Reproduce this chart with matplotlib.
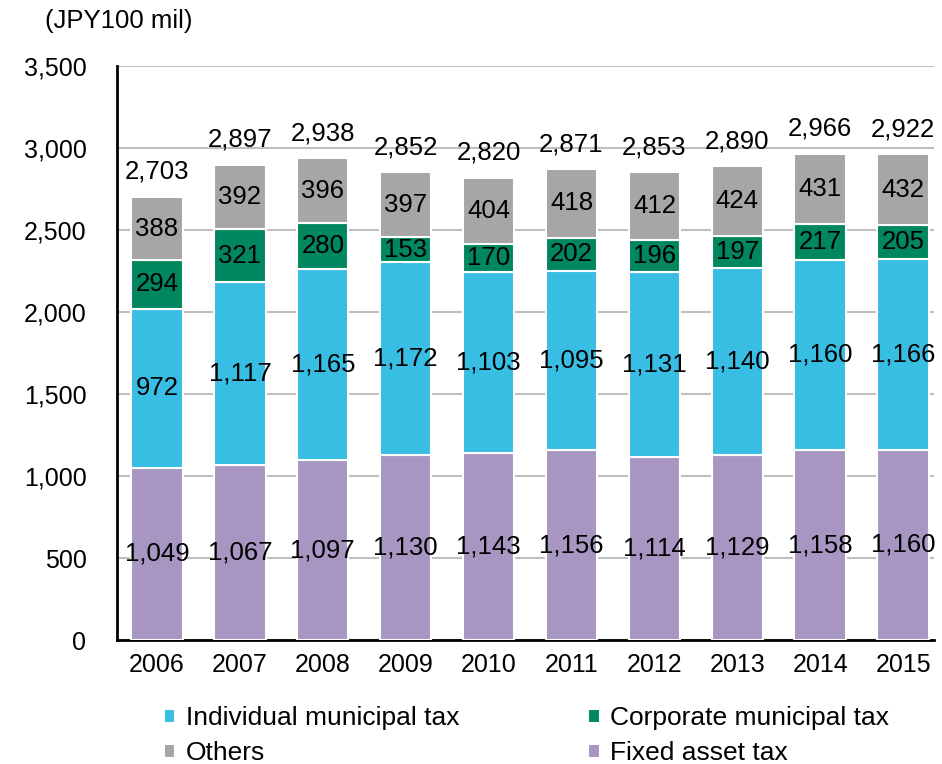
import matplotlib
matplotlib.use('Agg')
import matplotlib.pyplot as plt
import numpy as np

plt.rcParams['font.family'] = ['Liberation Sans', 'DejaVu Sans']

# Data (JPY 100 mil)
years = ['2006', '2007', '2008', '2009', '2010', '2011', '2012', '2013', '2014', '2015']
fixed_asset = [1049, 1067, 1097, 1130, 1143, 1156, 1114, 1129, 1158, 1160]
individual = [972, 1117, 1165, 1172, 1103, 1095, 1131, 1140, 1160, 1166]
corporate = [294, 321, 280, 153, 170, 202, 196, 197, 217, 205]
others = [388, 392, 396, 397, 404, 418, 412, 424, 431, 432]
totals = [2703, 2897, 2938, 2852, 2820, 2871, 2853, 2890, 2966, 2922]

series = [
    ('Fixed asset tax', fixed_asset, '#A896C2'),
    ('Individual municipal tax', individual, '#38BDE3'),
    ('Corporate municipal tax', corporate, '#00875F'),
    ('Others', others, '#A6A6A6'),
]

FS = 18.5

fig = plt.figure(figsize=(9.42, 7.64), dpi=100)
ax = fig.add_axes([0.1242, 0.1623, 0.8673, 0.7513])

x = np.arange(len(years))
bottom = np.zeros(len(years))
handles = {}
for name, vals, color in series:
    vals = np.array(vals, dtype=float)
    bars = ax.bar(x, vals, 0.62, bottom=bottom, color=color,
                  edgecolor='white', linewidth=1.5, zorder=3, label=name)
    handles[name] = bars
    for xi, b, v in zip(x, bottom, vals):
        ax.text(xi, b + v / 2, f'{int(v):,}', ha='center', va='center',
                fontsize=FS, color='black', zorder=4)
    bottom += vals

# Total labels above bars
for xi, top, t in zip(x, bottom, totals):
    ax.annotate(f'{t:,}', (xi, top), xytext=(0, 18), textcoords='offset points',
                ha='center', va='center', fontsize=FS)

ax.set_ylim(0, 3500)
ax.set_xlim(-0.4825, 9.373)
ax.set_yticks(np.arange(0, 3501, 500))
ax.set_yticklabels([f'{v:,}' for v in range(0, 3501, 500)])
ax.set_xticks(x)
ax.set_xticklabels(years)
ax.tick_params(axis='both', length=0, labelsize=18)
ax.tick_params(axis='y', pad=22)
ax.tick_params(axis='x', pad=9)

ax.yaxis.grid(True, color='#BFBFBF', linewidth=1.5, zorder=0)
ax.set_axisbelow(True)
for s in ['top', 'right']:
    ax.spines[s].set_visible(False)
for s in ['left', 'bottom']:
    ax.spines[s].set_linewidth(2)
    ax.spines[s].set_color('black')

fig.text(0.126, 0.972, '(JPY100 mil)', ha='center', va='center', fontsize=18.5)

# column-major order so rows read: Individual, Corporate / Others, Fixed asset
order = ['Individual municipal tax', 'Others', 'Corporate municipal tax', 'Fixed asset tax']
leg = fig.legend([handles[n] for n in order], order, ncol=2, loc='center',
                 bbox_to_anchor=(0.559, 0.037), frameon=False, fontsize=19,
                 handlelength=0.42, handleheight=0.42, handletextpad=0.4,
                 columnspacing=4.9, labelspacing=0.42)

fig.savefig('out.png', dpi=100)
